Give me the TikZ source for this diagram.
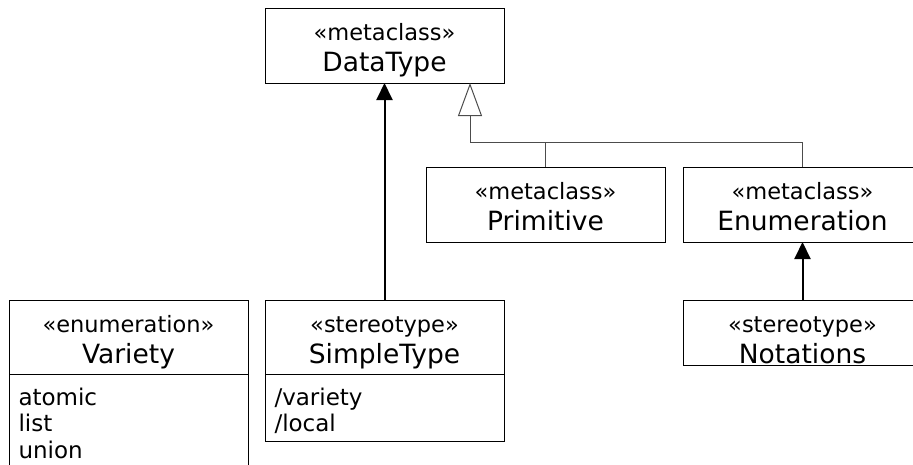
\documentclass[tikz,border=0pt]{standalone}
\usepackage{fontspec}
\setmainfont{DejaVu Sans}
\usetikzlibrary{positioning}
\usetikzlibrary{arrows.meta}

\newcommand{\stereo}{\fontsize{22.5}{31}\selectfont}
\newcommand{\cname}{\fontsize{26.5}{31}\selectfont}
\newcommand{\attrlist}[2]{\parbox[b][#1][t]{220pt}{\fontsize{23}{26.5}\selectfont\raggedright\strut #2}}

\begin{document}
\begin{tikzpicture}[x=1pt,y=-1pt,line width=1pt,
	classbox/.style={draw,rectangle,minimum width=239pt,minimum height=75pt,
		inner sep=0pt,outer sep=0pt,align=center,font=\stereo,
		text height=62pt,text depth=11pt},
	headbox/.style={classbox,minimum height=74pt,text depth=10pt},
	attrbox/.style={draw,rectangle,minimum width=239pt,inner xsep=9pt,
		inner ysep=12.5pt,outer sep=0pt},
	treeline/.style={draw=black!70},
	generalize/.style={draw=black!70,-{Triangle[open,length=33pt,width=24pt]}},
	assoc/.style={line width=2pt,-{Triangle[length=17pt,width=16pt]}}]
	
	\useasboundingbox (0,0) rectangle (913,464);
	\clip (0,0) rectangle (913,464);
	
	\node[classbox] (datatype) at (384.5,45.5) {«metaclass»\\{\cname DataType}};
	\node[classbox] (primitive) at (545.5,204.5) {«metaclass»\\{\cname Primitive}};
	\node[classbox] (enumeration) [right=18pt of primitive] {«metaclass»\\{\cname Enumeration}};
	\node[classbox,minimum height=65pt,text depth=1pt] (notations) [below=58pt of enumeration] {«stereotype»\\{\cname Notations}};
	\node[headbox] (variety) at (128.5,337) {«enumeration»\\{\cname Variety}};
	\node[headbox] (simple) [right=17pt of variety] {«stereotype»\\{\cname SimpleType}};
	\node[attrbox] (varietyattr) [below=0pt of variety] {\attrlist{110pt}{atomic\\list\\union}};
	\node[attrbox] (simpleattr) [below=0pt of simple] {\attrlist{42pt}{/variety\\/local}};
	
	% generalization tree
	\coordinate (join) at (470,142);
	\draw[treeline] (primitive.north) |- (join);
	\draw[treeline] (enumeration.north) |- (join);
	\draw[generalize] (join) -- (join |- datatype.south);
	
	\path[assoc]
	(simple) edge (datatype)
	(notations) edge (enumeration);
\end{tikzpicture}
\end{document}
